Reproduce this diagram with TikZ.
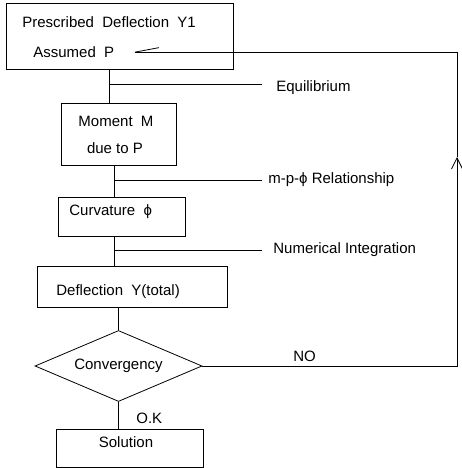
\documentclass[tikz,border=0pt]{standalone}
\usepackage{fontspec}
\setmainfont{Liberation Sans}
\usetikzlibrary{arrows.meta,positioning,shapes.geometric}

\begin{document}
\begin{tikzpicture}[x=1pt,y=1pt,line width=0.8pt,>={Straight Barb[length=11pt,width=11pt]},
                    box/.style={draw,rectangle,inner sep=0pt},
                    txt/.style={inner sep=0pt,font=\fontsize{15}{18}\selectfont},
                    decision/.style={draw,diamond,aspect=2.35,inner sep=0pt,font=\fontsize{15}{18}\selectfont}]

                \useasboundingbox (0,0) rectangle (462,468);

                \node[box,minimum width=227,minimum height=66] (pd) at (119.5,432) {};
                \node[txt,anchor=base west] (pdt) at (22,440.5) {Prescribed \ Deflection \ Y1};
                \node[txt,anchor=base west] (ap) at (33,410.5) {Assumed \ P};

                \node[box,minimum width=115,minimum height=62] (mm) at (118.5,334) {};
                \node[txt,anchor=base] (mmt) at (116,341.5) {Moment \ M};
                \node[txt,anchor=base] (mmp) at (115,314.5) {due to P};

                \node[box,minimum width=127,minimum height=39] (cv) at (121.5,251.5) {};
                \node[txt,anchor=base west] (cvt) at (69,252.5) {Curvature \ ϕ};

                \node[box,minimum width=190,minimum height=41] (df) at (132,181.5) {};
                \node[txt,anchor=base west] (dft) at (56,172.5) {Deflection \ Y(total)};

                \node[decision,minimum width=167,minimum height=71] (dia) at (118.5,102) {Convergency};

                \node[box,minimum width=147,minimum height=38] (sol) at (129.5,20) {};
                \node[txt,anchor=base] (solt) at (126,20.5) {Solution};

                \node[txt,anchor=base west] (ok) at (136,44.5) {O.K};
                \node[txt,anchor=base west] (no) at (293,106.5) {NO};

                \node[txt,anchor=base west] (eq) at (276,376.5) {Equilibrium};
                \node[txt,anchor=base west] (rel) at (268,284.5) {m-p-ϕ Relationship};
                \node[txt,anchor=base west] (ni) at (273,214.5) {Numerical Integration};

                \coordinate (j1) at (109,384);
                \coordinate (j2) at (114,288);
                \coordinate (j3) at (114,218);
                \coordinate (am) at (457,311);

                \draw (pd.south -| j1) -- (mm.north -| j1);
                \draw (mm.south -| j2) -- (cv.north -| j2);
                \draw (cv.south -| j3) -- (df.north -| j3);
                \draw (dia.north |- df.south) -- (dia.north);
                \draw (dia.south) -- (dia.south |- sol.north);

                \draw (j1) -- ([xshift=-14pt]eq.west |- j1);
                \draw (j2) -- ([xshift=-6pt]rel.west |- j2);
                \draw (j3) -- ([xshift=-11pt]ni.west |- j3);

                \draw[->] (dia.east) -| (am);
                \draw[-{Straight Barb[harpoon,swap,length=24pt,width=9pt]},shorten >=16pt] (am) |- (ap.east);

            \end{tikzpicture}
\end{document}
